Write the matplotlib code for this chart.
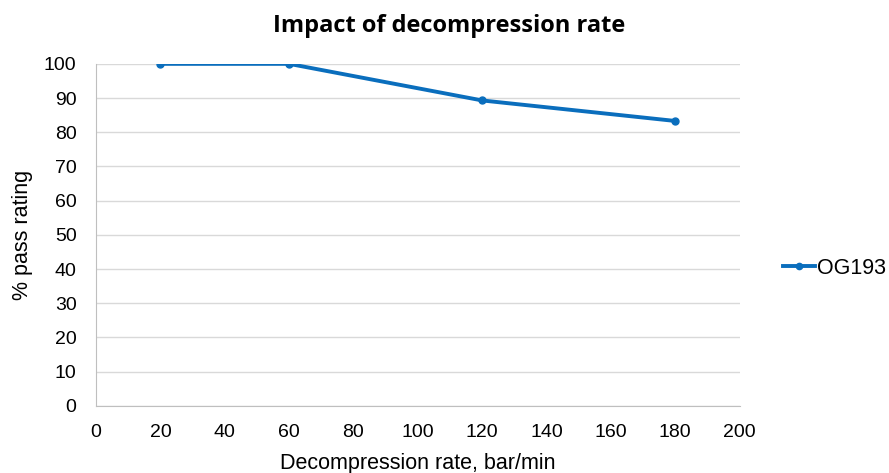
import numpy as np
import matplotlib.pyplot as plt

rate = [20, 60, 120, 180]
pass_rating = [100, 100, 89.3, 83.3]
series_name = "OG193"

plt.rcParams['font.family'] = ['Liberation Sans', 'DejaVu Sans']

fig = plt.figure(figsize=(8.89, 4.73), dpi=100)
ax = fig.add_axes([0.108, 0.142, 0.724, 0.723])

blue = "#0a6ebd"
ax.plot(rate, pass_rating, color=blue, lw=2.8, marker="o", ms=5, label=series_name)

ax.set_xlim(0, 200)
ax.set_ylim(0, 100)
ax.set_xticks(np.arange(0, 201, 20))
ax.set_yticks(np.arange(0, 101, 10))
ax.yaxis.grid(True, color="#d9d9d9", lw=1)
ax.set_axisbelow(True)
ax.tick_params(length=0, labelsize=14)
ax.tick_params(axis="x", pad=13)
ax.tick_params(axis="y", pad=14)

for s in ["top", "right"]:
    ax.spines[s].set_visible(False)
for s in ["left", "bottom"]:
    ax.spines[s].set_color("#bfbfbf")

ax.set_xlabel("Decompression rate, bar/min", fontsize=15.5, labelpad=9)
ax.set_ylabel("% pass rating", fontsize=15.5, labelpad=8)
fig.text(0.505, 0.945, "Impact of decompression rate", ha="center", va="center",
         fontsize=17, fontweight="bold", family=["Open Sans", "DejaVu Sans"])

fig.legend(loc="center left", bbox_to_anchor=(0.859, 0.433), frameon=False,
           fontsize=15.5, handlelength=1.5, handletextpad=0.1, markerscale=0.9)

fig.savefig("out.png", dpi=100)
